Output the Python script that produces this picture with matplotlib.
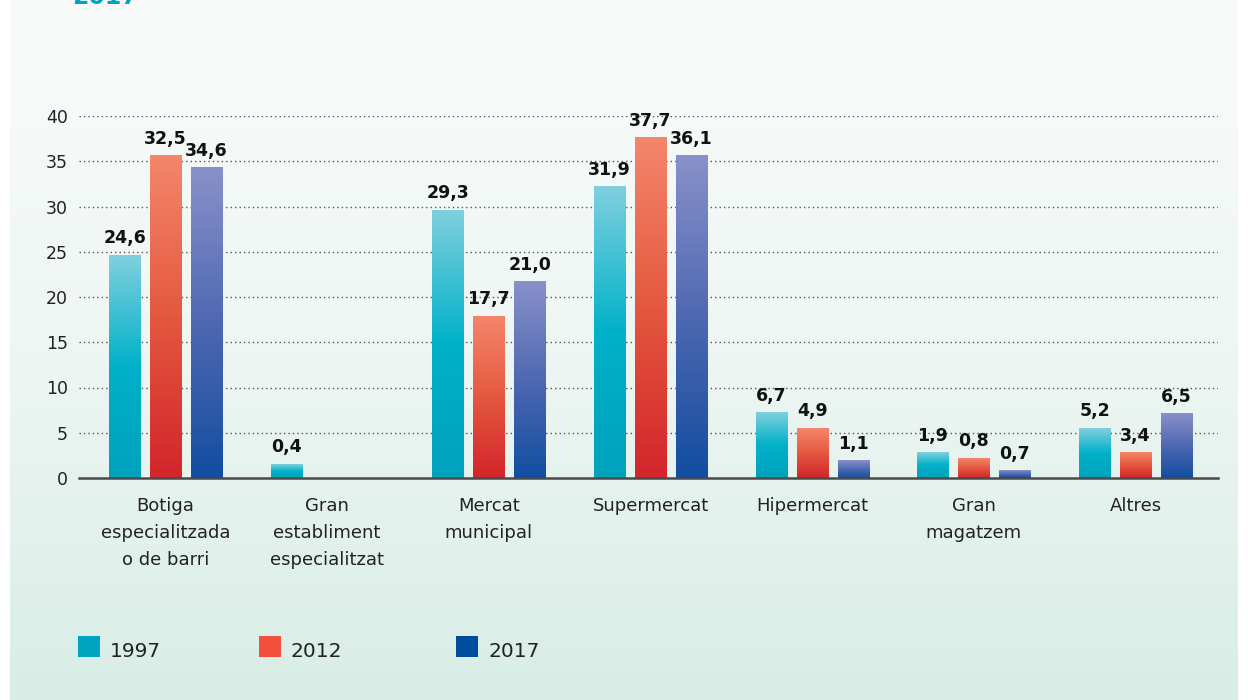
import numpy as np
import matplotlib
matplotlib.use("Agg")
import matplotlib.pyplot as plt
from matplotlib.colors import LinearSegmentedColormap
from matplotlib.patches import Rectangle

plt.rcParams['font.family'] = ['DejaVu Sans']

# categories and series (bar heights, printed labels as shown)
categories = ["Botiga\nespecialitzada\no de barri", "Gran\nestabliment\nespecialitzat",
              "Mercat\nmunicipal", "Supermercat", "Hipermercat", "Gran\nmagatzem", "Altres"]
years = ["1997", "2012", "2017"]

heights_1997 = [24.6, 1.5, 29.6, 32.2, 7.2, 2.8, 5.5]
heights_2012 = [35.6, np.nan, 17.9, 37.6, 5.5, 2.2, 2.8]
heights_2017 = [34.3, np.nan, 21.7, 35.6, 1.9, 0.8, 7.1]

labels_1997 = ["24,6", "0,4", "29,3", "31,9", "6,7", "1,9", "5,2"]
labels_2012 = ["32,5", "", "17,7", "37,7", "4,9", "0,8", "3,4"]
labels_2017 = ["34,6", "", "21,0", "36,1", "1,1", "0,7", "6,5"]

yticks = [0, 5, 10, 15, 20, 25, 30, 35, 40]

# colours: gradient top -> bottom per series, plus flat legend colour
grad_1997 = ["#7fd0de", "#00b1c9", "#00a2bc"]
grad_2012 = ["#f4866c", "#e4583f", "#d3252b"]
grad_2017 = ["#8891c9", "#4f68b2", "#124ea0"]
legend_colors = ["#00a3c0", "#f2503c", "#004c9f"]

W, H = 1248, 700
fig = plt.figure(figsize=(W / 100, H / 100), dpi=100)
fig.patch.set_facecolor("white")

# background panel with a soft vertical gradient
bg = fig.add_axes([10 / W, 0, 1228 / W, 1], zorder=-10)
bg_cmap = LinearSegmentedColormap.from_list("bg", ["#f9fbfa", "#eef6f3", "#d8ede6"])
bg.imshow(np.linspace(0, 1, 256).reshape(-1, 1), aspect="auto", cmap=bg_cmap,
          extent=(0, 1, 0, 1), origin="upper")
bg.axis("off")

# title, cut off at the very top as in the source
fig.text(72 / W, 1 - 3.5 / H, "2017", color="#00a3c0", fontsize=17, fontweight="bold",
         va="baseline", ha="left")

ax = fig.add_axes([79 / W, 222 / H, (1218 - 79) / W, (478 - 116) / H])
ax.patch.set_alpha(0)

x = np.arange(len(categories))
width = 0.192
step = 0.2535

series = [(heights_1997, labels_1997, grad_1997),
          (heights_2012, labels_2012, grad_2012),
          (heights_2017, labels_2017, grad_2017)]

for k, (vals, labs, grad) in enumerate(series):
    cmap = LinearSegmentedColormap.from_list("g%d" % k, grad)
    for i, (v, lab) in enumerate(zip(vals, labs)):
        if np.isnan(v):
            continue
        xc = x[i] + (k - 1) * step
        # gradient fill stretched over the bar's own height
        ax.imshow(np.linspace(0, 1, 128).reshape(-1, 1), aspect="auto", cmap=cmap,
                  extent=(xc - width / 2, xc + width / 2, 0, v), origin="upper", zorder=3)
        ax.annotate(lab, (xc, v), xytext=(0, 8.6), textcoords="offset points",
                    ha="center", va="baseline", fontsize=12.5, fontweight="bold",
                    color="#111111", zorder=5)

ax.set_xlim(-0.535, 6.51)
ax.set_ylim(0, 40)
ax.set_yticks(yticks)
ax.set_yticklabels([str(t) for t in yticks], fontsize=12.5, color="#222222")
ax.set_xticks(x)
ax.set_xticklabels(categories, fontsize=13, color="#222222", linespacing=1.62)
ax.tick_params(axis="both", length=0)
ax.tick_params(axis="y", pad=8)
ax.tick_params(axis="x", pad=14)

# dotted grid lines (not at zero), solid base line
for t in yticks[1:]:
    ax.axhline(t, color="#555555", linestyle=(0, (1, 2.2)), linewidth=1.0, zorder=1)
for s in ["top", "right", "left"]:
    ax.spines[s].set_visible(False)
ax.spines["bottom"].set_color("#4a4a4a")
ax.spines["bottom"].set_linewidth(1.8)
ax.spines["bottom"].set_zorder(6)

# legend drawn as squares + text in pixel positions
leg_x = [78, 259, 456]
for lx, yr, col in zip(leg_x, years, legend_colors):
    fig.add_artist(Rectangle((lx / W, 1 - 657 / H), 22 / W, 21 / H,
                             transform=fig.transFigure, facecolor=col, edgecolor="none"))
    fig.text((lx + 32) / W, 1 - 657 / H, yr, fontsize=14.5, color="#222222",
             va="baseline", ha="left")

fig.savefig("out.png", dpi=100)
